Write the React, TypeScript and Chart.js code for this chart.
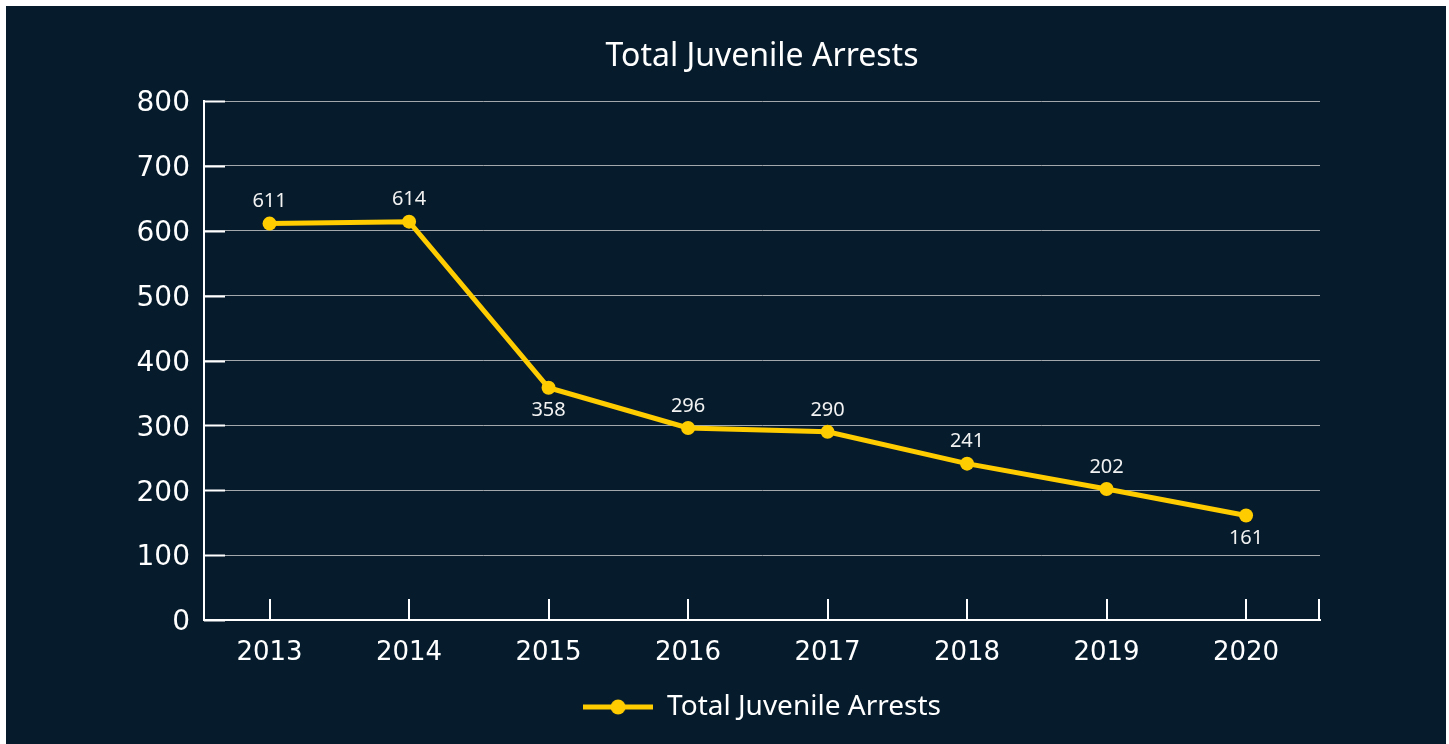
import React, { useEffect, useRef } from 'react';
import { Chart, registerables } from 'chart.js';

Chart.register(...registerables);

// ---- data ----
const chartTitle = 'Total Juvenile Arrests';
const seriesName = 'Total Juvenile Arrests';
const years = ['2013', '2014', '2015', '2016', '2017', '2018', '2019', '2020'];
const arrests = [611, 614, 358, 296, 290, 241, 202, 161];
const yMin = 0;
const yMax = 800;
const yStep = 100;
// indexes whose value label sits below the point
const labelsBelow = [2, 7];

// ---- style ----
const BG = '#061c2c';
const YELLOW = '#ffcc00';
const WHITE = '#ffffff';
const GRID = '#a3a8ad';
const FONT = "'Noto Sans', sans-serif";
const TICK_FONT = "'DejaVu Sans', sans-serif";

function makeLegendIcon(): HTMLCanvasElement {
  const c = document.createElement('canvas');
  c.width = 70;
  c.height = 16;
  const ctx = c.getContext('2d')!;
  ctx.strokeStyle = YELLOW;
  ctx.lineWidth = 5;
  ctx.beginPath();
  ctx.moveTo(0, 8);
  ctx.lineTo(70, 8);
  ctx.stroke();
  ctx.fillStyle = YELLOW;
  ctx.beginPath();
  ctx.arc(35, 8, 7.5, 0, Math.PI * 2);
  ctx.fill();
  return c;
}

const innerTicksPlugin = {
  id: 'innerTicks',
  beforeDatasetsDraw(chart: any) {
    const { ctx, chartArea, scales } = chart;
    const len = 21;
    ctx.save();
    ctx.strokeStyle = WHITE;
    ctx.lineWidth = 2;
    const x = scales.x;
    ctx.beginPath();
    x.ticks.forEach((_: any, i: number) => {
      const px = Math.round(x.getPixelForTick(i));
      ctx.moveTo(px, chartArea.bottom);
      ctx.lineTo(px, chartArea.bottom - len);
    });
    const r = Math.round(chartArea.right) - 1;
    ctx.moveTo(r, chartArea.bottom);
    ctx.lineTo(r, chartArea.bottom - len);
    ctx.stroke();
    const y = scales.y;
    ctx.beginPath();
    y.ticks.forEach((_: any, i: number) => {
      const py = Math.round(y.getPixelForTick(i)) + 0.5;
      ctx.moveTo(chartArea.left, py);
      ctx.lineTo(chartArea.left + len, py);
    });
    ctx.stroke();
    ctx.restore();
  },
};

const valueLabelsPlugin = {
  id: 'valueLabels',
  afterDatasetsDraw(chart: any) {
    const { ctx } = chart;
    const meta = chart.getDatasetMeta(0);
    const values = chart.data.datasets[0].data as number[];
    ctx.save();
    ctx.fillStyle = '#f2f2f2';
    ctx.font = `20px ${FONT}`;
    ctx.textAlign = 'center';
    ctx.textBaseline = 'middle';
    meta.data.forEach((pt: any, i: number) => {
      const below = labelsBelow.includes(i);
      ctx.fillText(String(values[i]), pt.x, pt.y + (below ? 23 : -22));
    });
    ctx.restore();
  },
};

export default function App() {
  const ref = useRef<HTMLCanvasElement | null>(null);

  useEffect(() => {
    if (!ref.current) return;
    const icon = makeLegendIcon();
    const chart = new Chart(ref.current, {
      type: 'line',
      data: {
        labels: years,
        datasets: [
          {
            label: seriesName,
            data: arrests,
            borderColor: YELLOW,
            backgroundColor: YELLOW,
            borderWidth: 5,
            pointRadius: 7,
            pointBackgroundColor: YELLOW,
            pointBorderWidth: 0,
            tension: 0,
          },
        ],
      },
      options: {
        animation: false,
        responsive: false,
        events: [],
        layout: { padding: { left: 0, right: 126, top: 0, bottom: 13 } },
        plugins: {
          title: {
            display: true,
            text: chartTitle,
            color: WHITE,
            fullSize: false,
            font: { family: FONT, size: 32, weight: 'normal' },
            padding: { top: 32, bottom: 24.6 },
          },
          legend: {
            display: true,
            position: 'bottom',
            fullSize: false,
            labels: {
              usePointStyle: true,
              pointStyleWidth: 70,
              color: WHITE,
              font: { family: FONT, size: 28 },
              generateLabels: () => [
                {
                  text: seriesName,
                  pointStyle: icon,
                  fillStyle: YELLOW,
                  strokeStyle: YELLOW,
                  lineWidth: 0,
                  hidden: false,
                  datasetIndex: 0,
                  fontColor: WHITE,
                } as any,
              ],
            },
          },
          tooltip: { enabled: false },
        },
        scales: {
          x: {
            type: 'linear',
            min: 2012.53,
            max: 2020.53,
            grid: { display: false, drawTicks: false },
            border: { color: WHITE, width: 2 },
            afterBuildTicks: (s: any) => {
              s.ticks = years.map((y) => ({ value: Number(y) }));
            },
            ticks: {
              color: WHITE,
              font: { family: TICK_FONT, size: 26 },
              padding: 18,
              callback: (v: any) => String(v),
            },
            afterFit: (s: any) => {
              s.height = 63;
            },
          },
          y: {
            min: yMin,
            max: yMax,
            grid: { color: GRID, lineWidth: 1, drawTicks: false },
            border: { color: WHITE, width: 2 },
            ticks: {
              stepSize: yStep,
              color: WHITE,
              font: { family: TICK_FONT, size: 28 },
              padding: 14,
              labelOffset: 3,
            },
            afterFit: (s: any) => {
              s.width = 198;
            },
          },
        },
      },
      plugins: [innerTicksPlugin, valueLabelsPlugin],
    });
    return () => chart.destroy();
  }, []);

  return (
    <div
      style={{
        position: 'fixed',
        left: 6,
        top: 6,
        width: 1440,
        height: 738,
        background: BG,
      }}
    >
      <canvas ref={ref} width={1440} height={738} style={{ display: 'block' }} />
    </div>
  );
}
